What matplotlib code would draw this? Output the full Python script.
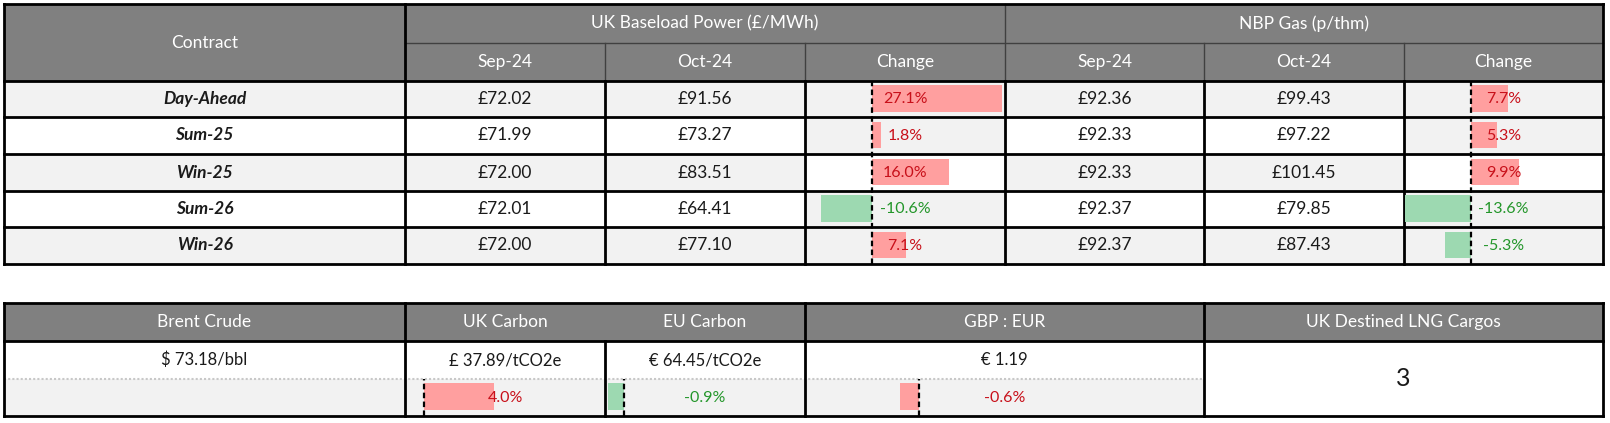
import matplotlib
matplotlib.use("Agg")
import matplotlib.pyplot as plt
from matplotlib.patches import Rectangle
from matplotlib.transforms import blended_transform_factory

# --- dati ---
contracts = ["Day-Ahead", "Sum-25", "Win-25", "Sum-26", "Win-26"]
power_sep = [72.02, 71.99, 72.00, 72.01, 72.00]
power_oct = [91.56, 73.27, 83.51, 64.41, 77.10]
power_chg = [27.1, 1.8, 16.0, -10.6, 7.1]
gas_sep = [92.36, 92.33, 92.33, 92.37, 92.37]
gas_oct = [99.43, 97.22, 101.45, 79.85, 87.43]
gas_chg = [7.7, 5.3, 9.9, -13.6, -5.3]

month_labels = ["Sep-24", "Oct-24", "Change"]
group_labels = ["UK Baseload Power (£/MWh)", "NBP Gas (p/thm)"]

brent_price = 73.18
uk_carbon = 37.89
eu_carbon = 64.45
uk_carbon_chg = 4.0
eu_carbon_chg = -0.9
gbp_eur = 1.19
gbp_eur_chg = -0.6
lng_cargos = 3
bottom_labels = ["Brent Crude", "UK Carbon", "EU Carbon", "GBP : EUR", "UK Destined LNG Cargos"]

# --- stile ---
W, H = 1610, 423
HEAD = "#808080"
SHADE = "#f2f2f2"
RED_BAR, GREEN_BAR = "#ff9f9f", "#9dd9b1"
RED_TXT, GREEN_TXT = "#c8101a", "#23962a"
FONT = "Lato"
FS = 12          # testo valori
FS_HEAD = 12.5   # intestazioni
FS_PCT = 11.5    # percentuali

fig = plt.figure(figsize=(W / 100, H / 100), dpi=100)
ax = fig.add_axes([0, 0, 1, 1])
ax.set_xlim(0, W)
ax.set_ylim(H, 0)
ax.axis("off")


def frac(x0, y0, x1, y1):
    return [x0 / W, 1 - y1 / H, (x1 - x0) / W, (y1 - y0) / H]


def cell(x0, y0, x1, y1, color):
    ax.add_patch(Rectangle((x0, y0), x1 - x0, y1 - y0, facecolor=color, edgecolor="none", zorder=0))


def txt(x, y, s, **kw):
    kw.setdefault("fontsize", FS)
    kw.setdefault("family", FONT)
    kw.setdefault("color", "#1a1a1a")
    ax.text(x, y, s, ha="center", va="center", zorder=5, **kw)


def head(x, y, s):
    txt(x, y, s, color="white", fontsize=FS_HEAD)


def change_bars(x0, y0, x1, y1, values, xlim, down_is_red=False):
    bax = fig.add_axes(frac(x0, y0, x1, y1))
    bax.set_xlim(*xlim)
    bax.set_ylim(len(values), 0)
    bax.axis("off")
    red = [(v < 0) == down_is_red for v in values]
    pos = [i + 0.48 for i in range(len(values))]
    bax.barh(pos, values, height=0.72, color=[RED_BAR if r else GREEN_BAR for r in red], zorder=1)
    bax.axvline(0, color="black", ls=(0, (2.5, 1.5)), lw=1.6, zorder=2)
    tr = blended_transform_factory(bax.transAxes, bax.transData)
    for i, v in enumerate(values):
        bax.text(0.5, i + 0.5, f"{v:.1f}%", transform=tr, ha="center", va="center",
                 fontsize=FS_PCT, family=FONT, color=RED_TXT if red[i] else GREEN_TXT, zorder=3)


# ================= tabella superiore =================
cx = [4, 405, 605, 805, 1005, 1204, 1404, 1603]
ry = [4, 43, 81, 117, 154, 191, 227, 264]
rows_y = ry[2:]

cell(cx[0], ry[0], cx[-1], ry[2], HEAD)
head((cx[0] + cx[1]) / 2, (ry[0] + ry[2]) / 2, "Contract")
head((cx[1] + cx[4]) / 2, (ry[0] + ry[1]) / 2, group_labels[0])
head((cx[4] + cx[7]) / 2, (ry[0] + ry[1]) / 2, group_labels[1])
for j in range(6):
    head((cx[j + 1] + cx[j + 2]) / 2, (ry[1] + ry[2]) / 2, month_labels[j % 3])

change_shade = [True, True, False, True, True]
value_cols = [power_sep, power_oct, None, gas_sep, gas_oct, None]
for i in range(len(contracts)):
    y0, y1 = rows_y[i], rows_y[i + 1]
    ym = (y0 + y1) / 2
    cell(cx[0], y0, cx[1], y1, SHADE if i % 2 == 0 else "white")
    txt((cx[0] + cx[1]) / 2, ym, contracts[i], weight="bold", style="italic", fontsize=12.5)
    for j, col in enumerate(value_cols):
        xa, xb = cx[j + 1], cx[j + 2]
        if col is None:
            cell(xa, y0, xb, y1, SHADE if change_shade[i] else "white")
        else:
            cell(xa, y0, xb, y1, SHADE if i % 2 == 0 else "white")
            txt((xa + xb) / 2, ym, f"£{col[i]:.2f}", fontsize=12.5)

change_bars(cx[3], rows_y[0], cx[4], rows_y[-1], power_chg, (-13.96, 27.7))
change_bars(cx[6], rows_y[0], cx[7], rows_y[-1], gas_chg, (-13.8, 27.2))

# linee
hl = "#404040"
ax.plot([cx[1], cx[-1]], [ry[1], ry[1]], color=hl, lw=1, zorder=6)
for x in [cx[2], cx[3], cx[5], cx[6]]:
    ax.plot([x, x], [ry[1], ry[2]], color=hl, lw=1, zorder=6)
ax.plot([cx[4], cx[4]], [ry[0], ry[2]], color=hl, lw=1, zorder=6)
for y in rows_y:
    ax.plot([cx[0], cx[-1]], [y, y], color="black", lw=2, zorder=7)
ax.plot([cx[0], cx[-1]], [ry[0], ry[0]], color="black", lw=2, zorder=7)
for x in cx:
    top = ry[0] if x in (cx[0], cx[1], cx[-1]) else ry[2]
    ax.plot([x, x], [top, rows_y[-1]], color="black", lw=2, zorder=7)

# ================= tabella inferiore =================
bx = [4, 405, 605, 805, 1204, 1603]
by = [303, 341, 379, 416]

cell(bx[0], by[0], bx[-1], by[1], HEAD)
for j, lab in enumerate(bottom_labels):
    head((bx[j] + bx[j + 1]) / 2, (by[0] + by[1]) / 2, lab)
cell(bx[0], by[1], bx[4], by[2], "white")
cell(bx[0], by[2], bx[4], by[3], SHADE)
cell(bx[4], by[1], bx[5], by[3], "white")

vm = (by[1] + by[2]) / 2
txt((bx[0] + bx[1]) / 2, vm, f"$ {brent_price:.2f}/bbl")
txt((bx[1] + bx[2]) / 2, vm, f"£ {uk_carbon:.2f}/tCO2e")
txt((bx[2] + bx[3]) / 2, vm, f"€ {eu_carbon:.2f}/tCO2e")
txt((bx[3] + bx[4]) / 2, vm, f"€ {gbp_eur:.2f}")
txt((bx[4] + bx[5]) / 2, (by[1] + by[3]) / 2, str(lng_cargos), fontsize=18)

change_bars(bx[1], by[2], bx[2], by[3], [uk_carbon_chg], (-1.06, 10.37))
change_bars(bx[2], by[2], bx[3], by[3], [eu_carbon_chg], (-1.06, 10.37))
change_bars(bx[3], by[2], bx[4], by[3], [gbp_eur_chg], (-3.66, 9.2), down_is_red=True)

ax.plot([bx[0], bx[4]], [by[2], by[2]], color="#c8c8c8", lw=1.5, ls=(0, (1, 1)), zorder=6)
for y in [by[0], by[1], by[3]]:
    ax.plot([bx[0], bx[-1]], [y, y], color="black", lw=2, zorder=7)
for x in [bx[0], bx[1], bx[3], bx[4], bx[5]]:
    ax.plot([x, x], [by[0], by[3]], color="black", lw=2, zorder=7)
ax.plot([bx[2], bx[2]], [by[1], by[3]], color="black", lw=2, zorder=7)

fig.savefig("out.png", dpi=100)
